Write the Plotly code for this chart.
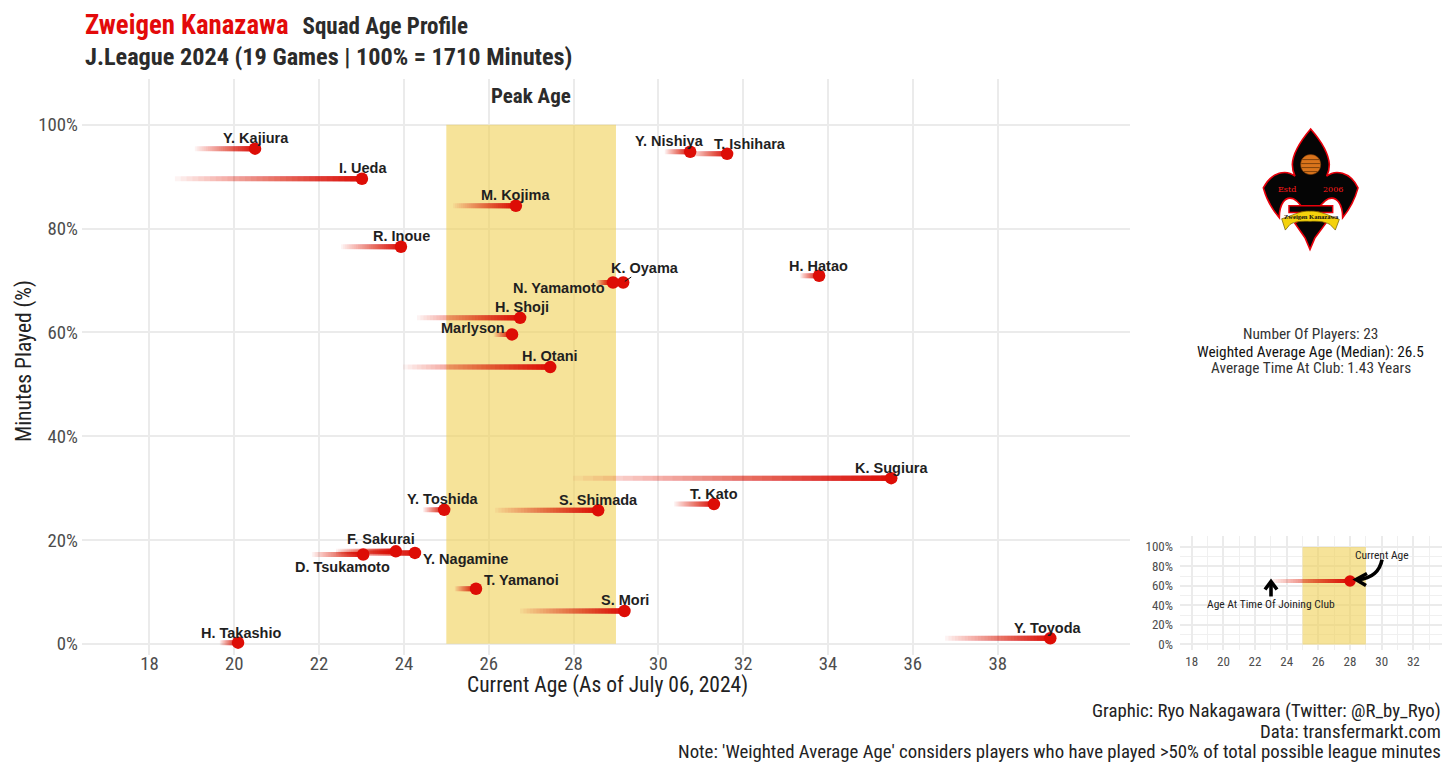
import re
import plotly.graph_objects as go

W, H = 1456, 777

# ---------- data ----------
players = ["Y. Kajiura", "I. Ueda", "M. Kojima", "R. Inoue", "Y. Nishiya", "T. Ishihara", "H. Hatao", "K. Oyama",
           "N. Yamamoto", "H. Shoji", "Marlyson", "H. Otani", "K. Sugiura", "T. Kato", "S. Shimada", "Y. Toshida",
           "F. Sakurai", "Y. Nagamine", "D. Tsukamoto", "T. Yamanoi", "S. Mori", "H. Takashio", "Y. Toyoda"]
age_joined = [19.07, 18.6, 25.16, 22.52, 30.15, 30.75, 33.34, 28.6, 28.53, 24.31, 26.12, 23.98, 27.99, 30.37, 26.15,
              24.45, 22.4, 22.4, 21.83, 25.2, 26.74, 19.66, 36.76]
age_now = [20.49, 23.01, 26.64, 23.93, 30.75, 31.62, 33.79, 29.17, 28.93, 26.74, 26.55, 27.45, 35.49, 31.31, 28.58,
           24.95, 23.81, 24.26, 23.04, 25.7, 29.2, 20.09, 39.24]
minutes_pct = [95.4, 89.6, 84.4, 76.5, 94.8, 94.4, 70.9, 69.6, 69.6, 62.8, 59.6, 53.3, 31.9, 26.9, 25.7, 25.8, 17.8,
               17.5, 17.2, 10.6, 6.3, 0.2, 1.05]

x_ticks = [18, 20, 22, 24, 26, 28, 30, 32, 34, 36, 38]
y_ticks = [0, 20, 40, 60, 80, 100]
y_tick_labels = ["0%", "20%", "40%", "60%", "80%", "100%"]
inset_x_ticks = [18, 20, 22, 24, 26, 28, 30, 32]
peak_age = [25, 29]
peak_pct = [0, 100]
example_age = [23, 28]
example_pct = [65, 65]

# ---------- styling / placement ----------
label_offsets = [(1, -11), (1, -11), (0, -11), (1, -11), (-21, -11), (23, -10), (-1, -10), (22, -15), (-54, 5),
                 (2, -10.5), (-39, -6), (0, -11), (0, -10), (0, -10), (0, -10.5), (-1, -11), (-15, -12.5), (51, 6),
                 (-21, 12.5), (45, -9), (1, -11), (3, -10), (-2, -10.5)]
RED = (221, 13, 6)
GRID = "#ebebeb"
BAND = "rgba(239,207,80,0.58)"
TXT = "#4d4d4d"
COND = "'Roboto Condensed','Liberation Sans Narrow',Roboto"
BOLD = "'Liberation Sans',Arial,sans-serif"
LEVELS = 32


def px(x):
    return x / W


def py(y):
    return 1 - y / H


def logo_path(d):
    """Translate a path written in crop-style coordinates to paper coordinates."""
    def conv(m):
        return f"{px(1230 + float(m.group(1)) / 3):.5f},{py(110 + float(m.group(2)) / 3):.5f}"
    return re.sub(r"(-?[\d.]+)[ ,](-?[\d.]+)", conv, d)


def gradient_traces(starts, ends, ys, width, xa, ya):
    """Fade a line in by stacking faint runs that all finish at the player's current age."""
    out = []
    prev = 0.0
    for k in range(LEVELS):
        target = 0.05 + 0.93 * (k / (LEVELS - 1)) ** 0.9
        alpha = 1 - (1 - target) / (1 - prev)
        prev = target
        xs, yy = [], []
        for a, b, y in zip(starts, ends, ys):
            xs += [a + (b - a) * k / LEVELS, b, None]
            yy += [y, y, None]
        out.append(go.Scatter(x=xs, y=yy, mode="lines", xaxis=xa, yaxis=ya, hoverinfo="skip", showlegend=False,
                              line=dict(color=f"rgba({RED[0]},{RED[1]},{RED[2]},{alpha:.4f})", width=width)))
    return out


fig = go.Figure()
for t in gradient_traces(age_joined, age_now, minutes_pct, 5, "x", "y"):
    fig.add_trace(t)
fig.add_trace(go.Scatter(x=age_now, y=minutes_pct, mode="markers", text=players, showlegend=False,
                         marker=dict(size=12.5, color=f"rgb{RED}"), xaxis="x", yaxis="y"))
for t in gradient_traces(example_age[:1], example_age[1:], example_pct[:1], 4, "x2", "y2"):
    fig.add_trace(t)
fig.add_trace(go.Scatter(x=example_age[1:], y=example_pct[1:], mode="markers", showlegend=False,
                         marker=dict(size=11.5, color=f"rgb{RED}"), xaxis="x2", yaxis="y2"))

shapes = [
    dict(type="rect", xref="x", yref="y", x0=peak_age[0], x1=peak_age[1], y0=peak_pct[0], y1=peak_pct[1],
         fillcolor=BAND, line_width=0, layer="between"),
    dict(type="rect", xref="x2", yref="y2", x0=peak_age[0], x1=peak_age[1], y0=peak_pct[0], y1=peak_pct[1],
         fillcolor=BAND, line_width=0, layer="between"),
]
# Logo
shapes.append(dict(type="path", xref="paper", yref="paper", fillcolor="#050505", layer="above",
                   line=dict(color="#e8000b", width=1.6),
                   path=logo_path("M 242,58 C 215,90 188,130 187,165 C 187,178 190,190 195,200 C 170,180 125,185 100,235 "
                                  "C 108,265 122,295 148,325 C 148,285 165,258 190,268 C 205,275 212,290 215,290 "
                                  "L 215,310 C 212,325 205,335 195,342 L 225,385 L 240,420 L 255,385 L 287,342 "
                                  "C 278,335 272,325 268,310 L 268,290 C 272,290 280,275 295,268 "
                                  "C 320,258 338,285 338,325 C 362,295 376,265 384,235 C 360,185 315,180 290,200 "
                                  "C 295,190 298,178 298,165 C 296,130 270,90 242,58 Z")))
shapes.append(dict(type="path", xref="paper", yref="paper", fillcolor="#050505", layer="above",
                   line=dict(color="#e8000b", width=1.5),
                   path=logo_path("M 177,289 L 308,289 L 308,309 L 177,309 Z")))
shapes.append(dict(type="path", xref="paper", yref="paper", fillcolor="#f4d20c", layer="above",
                   line=dict(color="#6f5a00", width=0.7),
                   path=logo_path("M 155,328 C 185,320 210,303 240,305 C 270,303 300,320 328,330 L 316,362 L 300,345 "
                                  "C 280,335 260,335 240,336 C 220,335 195,335 180,345 L 166,362 Z")))
shapes.append(dict(type="path", xref="paper", yref="paper", fillcolor="#d9741c", layer="above",
                   line=dict(color="#7a3d08", width=0.6),
                   path=logo_path("M 212,165 C 212,125 272,125 272,165 C 272,205 212,205 212,165 Z")))
for d in ["M 217,150 L 267,150", "M 214,162 L 270,162", "M 215,174 L 269,174", "M 222,186 L 262,186"]:
    shapes.append(dict(type="path", xref="paper", yref="paper", layer="above", line=dict(color="#5a2d05", width=0.7),
                       path=logo_path(d)))
# Legend-inset arrows
for d, lw in [("M 1271,598 L 1271,584", 3.6), ("M 1265,591 L 1271,583 L 1277,591", 3.6),
              ("M 1382,561 C 1380,572 1372,580 1358,581", 3.6), ("M 1367,575 L 1356,581 L 1366,587", 3.6)]:
    conv = re.sub(r"(\d+),(\d+)", lambda m: f"{px(float(m.group(1))):.5f},{py(float(m.group(2))):.5f}", d)
    shapes.append(dict(type="path", xref="paper", yref="paper", path=conv, line=dict(color="black", width=lw),
                       layer="above"))

annotations = []
for name, xv, yv, (dx, dy) in zip(players, age_now, minutes_pct, label_offsets):
    a = dict(x=xv, y=yv, xref="x", yref="y", text=f"<b>{name}</b>", font=dict(family=BOLD, size=14.5, color="#1f1f1f"))
    if name == "K. Oyama":
        a.update(showarrow=True, ax=dx, ay=dy, axref="pixel", ayref="pixel", arrowhead=0, arrowwidth=1,
                 arrowcolor="#111111", standoff=2)
    else:
        a.update(showarrow=False, xshift=dx, yshift=-dy)
    annotations.append(a)


def note(x, y, text, size, color="#222222", anchor="center", family=COND, angle=0):
    return dict(x=px(x), y=py(y), xref="paper", yref="paper", text=text, showarrow=False, xanchor=anchor,
                yanchor="middle", textangle=angle, font=dict(family=family, size=size, color=color))


annotations += [
    note(607.5, 687, "Current Age (As of July 06, 2024)", 21.5, "#222222"),
    note(24, 362, "Minutes Played (%)", 21.5, "#222222", angle=-90),
    note(531, 96, "<b>Peak Age</b>", 21, "#2b2b2b"),
    note(1310.5, 335, "Number Of Players: 23", 15.3, "#333333"),
    note(1310.5, 353, "Weighted Average Age (Median): 26.5", 15.3, "#111111"),
    note(1310.5, 369, "Average Time At Club: 1.43 Years", 15.3, "#333333"),
    note(1443, 713, "Graphic: Ryo Nakagawara (Twitter: @R_by_Ryo)", 18.8, "#222222", "right"),
    note(1443, 733.5, "Data: transfermarkt.com", 18.8, "#222222", "right"),
    note(1443, 754, "Note: 'Weighted Average Age' considers players who have played >50% of total possible league minutes",
         18.8, "#222222", "right"),
    note(1271, 606, "Age At Time Of Joining Club", 11.5, "#222222"),
    note(1382, 556.5, "Current Age", 11.5, "#222222"),
    note(1287, 190, "Estd", 8, "#ff1a1a", family="'DejaVu Serif'"),
    note(1333, 190, "2006", 8, "#ff1a1a", family="'DejaVu Serif'"),
    note(1311, 217.5, "<b>Zweigen Kanazawa</b>", 6.5, "#111111", family="'Liberation Serif'"),
]

fig.update_layout(
    width=W, height=H, autosize=False, paper_bgcolor="white", plot_bgcolor="white",
    margin=dict(l=0, r=0, t=0, b=0), showlegend=False, shapes=shapes, annotations=annotations,
    font=dict(family=COND, color=TXT),
    title=dict(
        text="<b><span style='color:#e30a0a;font-size:26.8px'>Zweigen Kanazawa</span>"
             "<span style='font-size:30px'>  </span><span style='font-size:23px'>Squad Age Profile</span><br>"
             "J.League 2024 (19 Games | 100% = 1710 Minutes)</b>",
        x=px(85), y=py(34), xref="paper", yref="paper", xanchor="left", yanchor="top",
        font=dict(family=COND, size=24.25, color="#2b2b2b")),
    xaxis=dict(domain=[px(82), px(1130)], range=[16.41, 41.12], tickvals=x_ticks, showgrid=True, gridcolor=GRID,
               gridwidth=1.5, zeroline=False, showline=False, ticks="", tickfont=dict(size=18.8, color=TXT),
               ticklabelstandoff=-4, anchor="y"),
    yaxis=dict(domain=[py(656.3), py(79.3)], range=[-2.1, 108.8], tickvals=y_ticks, ticktext=y_tick_labels,
               showgrid=True, gridcolor=GRID, gridwidth=1.5, zeroline=False, showline=False, ticks="",
               tickfont=dict(size=18.8, color=TXT), ticklabelstandoff=3, anchor="x"),
    xaxis2=dict(domain=[px(1180), px(1441.7)], range=[17.26, 33.79], tickvals=inset_x_ticks, showgrid=True,
                gridcolor=GRID, gridwidth=1.5, zeroline=False, showline=False, ticks="",
                minor=dict(dtick=1, tick0=18, showgrid=True, gridcolor="#f0f0f0", gridwidth=1),
                tickfont=dict(size=13, color=TXT), ticklabelstandoff=2, anchor="y2"),
    yaxis2=dict(domain=[py(651.7), py(537.7)], range=[-5.8, 110.9], tickvals=y_ticks, ticktext=y_tick_labels,
                showgrid=True, gridcolor=GRID, gridwidth=1.5, zeroline=False, showline=False, ticks="",
                minor=dict(dtick=10, tick0=0, showgrid=True, gridcolor="#f0f0f0", gridwidth=1),
                tickfont=dict(size=13, color=TXT), ticklabelstandoff=6, anchor="x2"),
)

fig.write_html("out.html", post_script="document.body.style.margin='0';", config={"displayModeBar": False})
